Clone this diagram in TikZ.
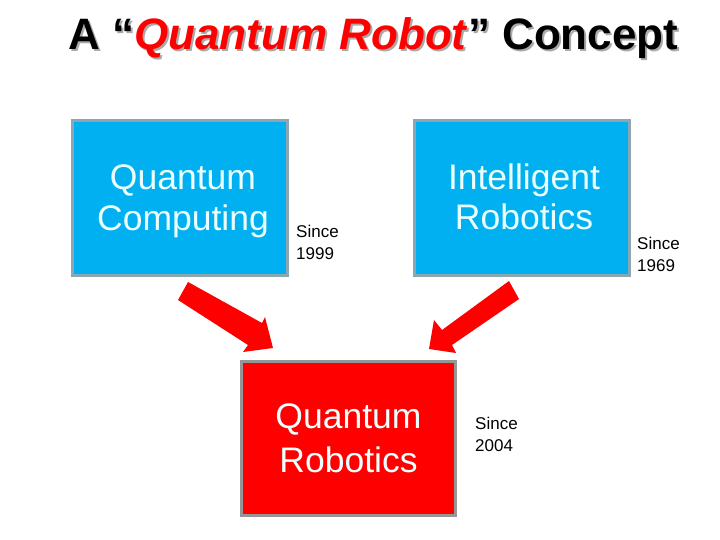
\documentclass[tikz,border=0pt]{standalone}
\usepackage{fontspec}
\setmainfont{Liberation Sans}
\begin{document}
\begin{tikzpicture}[x=1pt,y=-1pt,
  bluebox/.style={draw=boxgray, line width=3pt, fill=qblue, minimum width=215pt, minimum height=155pt, inner sep=0pt},
  redbox/.style={draw=redgray, line width=3pt, fill=red, minimum width=214pt, minimum height=154pt, inner sep=0pt},
  boxtext/.style={text=boxwhite, align=center, inner sep=0pt},
  sincetext/.style={anchor=north west, align=left, inner sep=0pt, font=\fontsize{17}{22}\selectfont},
  blockarrow/.style={fill=red, draw=none}]
\definecolor{qblue}{RGB}{0,176,240}
\definecolor{boxgray}{RGB}{140,166,178}
\definecolor{redgray}{RGB}{150,150,150}
\definecolor{boxwhite}{RGB}{235,255,255}
\definecolor{shadowgray}{RGB}{170,170,170}
\useasboundingbox (0,0) rectangle (720,540);
\fill[white] (0,0) rectangle (720,540);
% title with shadow
\node[anchor=base west, inner sep=0pt, font=\fontsize{44}{50}\bfseries\selectfont] (title) at (68,50)
  {\makebox[0pt][l]{\raisebox{-2pt}{\hspace{2pt}\color{shadowgray}A “\textit{Quantum Robot}” Concept}}A “\textcolor{red}{\textit{Quantum Robot}}” Concept};
% boxes
\node[bluebox] (qc) at (180,198) {};
\node[bluebox] (ir) at (522,198) {};
\node[redbox] (qr) at (348.5,438.5) {};
\node[boxtext, font=\fontsize{35.5}{41}\selectfont] (qct) at (183,201) {Quantum\\Computing};
\node[boxtext, font=\fontsize{35.5}{40}\selectfont] (irt) at (524,197) {Intelligent\\Robotics};
\node[boxtext, font=\fontsize{35.5}{44}\selectfont] (qrt) at (348.5,438) {Quantum\\Robotics};
% since labels
\node[sincetext] (s1) at (296,224.5) {Since\\1999};
\node[sincetext] (s2) at (637,236.5) {Since\\1969};
\node[sincetext] (s3) at (475,416.5) {Since\\2004};
% block arrows
\fill[blockarrow] (188,282) -- (262,323) -- (265,317) -- (273,348) -- (243,352) -- (248,345) -- (178,300) -- cycle;
\fill[blockarrow] (509,281) -- (519,299) -- (452,345) -- (456,353) -- (429,349) -- (434,320) -- (442,330) -- cycle;
\end{tikzpicture}
\end{document}
